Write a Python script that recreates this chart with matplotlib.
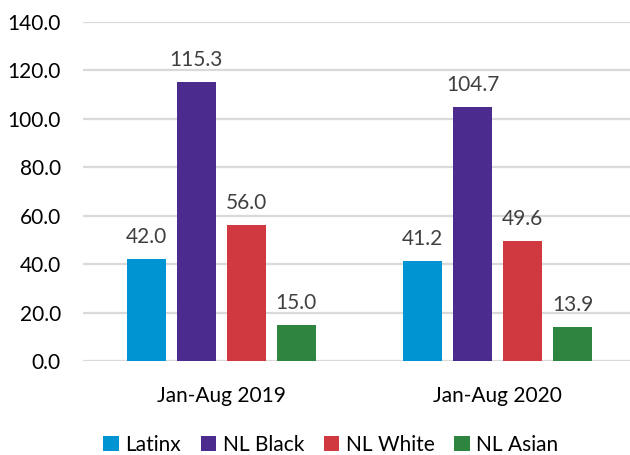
import matplotlib
matplotlib.use("Agg")
import matplotlib.pyplot as plt
import numpy as np

periods = ["Jan-Aug 2019", "Jan-Aug 2020"]
groups = ["Latinx", "NL Black", "NL White", "NL Asian"]
latinx = [42.0, 41.2]
nl_black = [115.3, 104.7]
nl_white = [56.0, 49.6]
nl_asian = [15.0, 13.9]
colors = ["#0094D3", "#4B2C8E", "#D0393F", "#2E8540"]

plt.rcParams["font.family"] = ["Lato", "DejaVu Sans"]

fig = plt.figure(figsize=(6.30, 4.55), dpi=100)
ax = fig.add_axes([83 / 630, 1 - 361 / 455, (636 - 83) / 630, (361 - 22) / 455])

x = np.arange(len(periods))
step = 50 / 276.5
width = 39 / 276.5
series = [latinx, nl_black, nl_white, nl_asian]
for i, (name, vals, c) in enumerate(zip(groups, series, colors)):
    pos = x + (i - 1.5) * step
    bars = ax.bar(pos, vals, width, color=c, label=name, zorder=3)
    for b, v in zip(bars, vals):
        ax.text(b.get_x() + b.get_width() / 2, v + 5, f"{v:.1f}",
                ha="center", va="bottom", fontsize=15, color="#404040")

ax.set_xlim(-0.5, 1.5)
ax.set_ylim(0, 140)
ax.set_yticks(np.arange(0, 141, 20))
ax.set_yticklabels([f"{t:.1f}" for t in np.arange(0, 141, 20)], fontsize=15, color="#000000")
ax.set_xticks(x)
ax.set_xticklabels(periods, fontsize=15, color="#000000")
ax.tick_params(axis="y", length=0, pad=16)
ax.tick_params(axis="x", length=0, pad=18)
ax.grid(axis="y", color="#D9D9D9", linewidth=1.6, zorder=0)
for s in ax.spines.values():
    s.set_visible(False)

ax.legend(loc="center", bbox_to_anchor=(0.448, -0.247), ncol=4, frameon=False,
          fontsize=15, handlelength=0.75, handleheight=0.75, handletextpad=0.3,
          columnspacing=0.95, borderpad=0)

fig.savefig("out.png", dpi=100)
